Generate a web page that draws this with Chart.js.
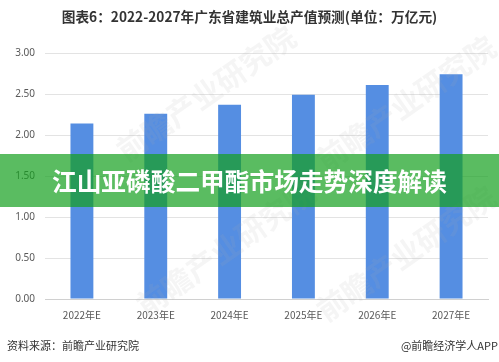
<!DOCTYPE html>
<html>
<head>
<meta charset="utf-8">
<script src="https://cdn.jsdelivr.net/npm/chart.js@4"></script>
<style>
  html, body { margin: 0; padding: 0; background: #fff; }
  #wrap { position: relative; width: 499px; height: 362px; overflow: hidden; font-family: "Noto Sans CJK SC", "Noto Sans", sans-serif; }
  #title { position: absolute; left: 0; top: 6px; width: 499px; text-align: center; font-size: 13.7px; font-weight: bold; color: #333; }
  .foot { position: absolute; top: 337px; font-size: 11px; color: #333; }
  #banner { position: absolute; left: 0; top: 154px; width: 499px; height: 53px; background: rgba(20,160,30,0.7);
    color: #fff; font-size: 24.7px; font-weight: bold; text-align: center; line-height: 53px; }
  .wm { position: absolute; color: rgba(170,170,170,0.12); font-size: 30px; font-weight: bold; transform: rotate(-35deg); white-space: nowrap; pointer-events: none; }
</style>
</head>
<body>
<div id="wrap">
  <canvas id="myChart" width="499" height="362"></canvas>
  <div id="title">图表6：2022-2027年广东省建筑业总产值预测(单位：万亿元)</div>
  <div class="wm" style="left:100px; top:70px;">前瞻产业研究院</div>
  <div class="wm" style="left:300px; top:80px;">前瞻产业研究院</div>
  <div class="wm" style="left:120px; top:225px;">前瞻产业研究院</div>
  <div class="wm" style="left:300px; top:230px;">前瞻产业研究院</div>
  <div id="banner">江山亚磷酸二甲酯市场走势深度解读</div>
  <div class="foot" style="left:7px;">资料来源：前瞻产业研究院</div>
  <div class="foot" style="right:1px;">@前瞻经济学人APP</div>
</div>
<script>
const years = ["2022年E", "2023年E", "2024年E", "2025年E", "2026年E", "2027年E"]
const output = [2.14, 2.26, 2.37, 2.49, 2.61, 2.74]
const yTicks = [0, 0.5, 1, 1.5, 2, 2.5, 3]

const data = {
    labels: years,
    datasets: [{
        label: "总产值",
        data: output,
        backgroundColor: "#558ee2",
        barPercentage: 0.31,
        categoryPercentage: 1
    }]
};

let chart = new Chart("myChart", {
    type: "bar",
    data: data,
    options: {
        responsive: false,
        animation: false,
        layout: { padding: { top: 53, right: 11, bottom: 39, left: 0 } },
        plugins: {
            legend: { display: false },
            tooltip: { enabled: false }
        },
        scales: {
            x: {
                grid: { display: false },
                border: { color: "#d0d0d0" },
                ticks: { color: "#595959", font: { size: 10, family: "Noto Sans CJK SC" }, padding: 2 }
            },
            y: {
                min: 0,
                max: 3,
                afterFit: (s) => { s.width = 45 },
                afterBuildTicks: (s) => { s.ticks = yTicks.map(v => ({ value: v })) },
                grid: { color: "#e3e3e3", drawTicks: false },
                border: { display: false },
                ticks: {
                    color: "#595959",
                    font: { size: 10, family: "Noto Sans" },
                    padding: 10,
                    callback: (v) => v.toFixed(2)
                }
            }
        }
    }
});
</script>
</body>
</html>
